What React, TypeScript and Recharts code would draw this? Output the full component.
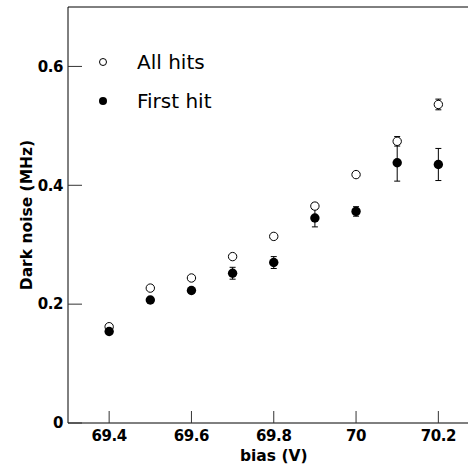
import {
    ScatterChart,
    Scatter,
    XAxis,
    YAxis,
    ErrorBar,
    ReferenceLine,
    Legend,
} from "recharts";

// bias voltage (V)
const bias = [69.4, 69.5, 69.6, 69.7, 69.8, 69.9, 70.0, 70.1, 70.2];

// dark noise rate (MHz)
const allHits = [0.162, 0.227, 0.244, 0.28, 0.314, 0.365, 0.418, 0.474, 0.536];
const allHitsErr = [0.003, 0.003, 0.003, 0.003, 0.003, 0.005, 0.004, 0.008, 0.009];
const firstHit = [0.154, 0.207, 0.223, 0.252, 0.27, 0.345, 0.356, 0.438, 0.435];
const firstHitErr = [0.003, 0.003, 0.004, 0.01, 0.01, 0.015, 0.008, 0.031, 0.027];

const xTicks = [69.4, 69.6, 69.8, 70, 70.2];
const yTicks = [0, 0.2, 0.4, 0.6];

const FONT = '"DejaVu Sans", sans-serif';

const allData = bias.map((x, i) => ({ x, y: allHits[i], err: allHitsErr[i] }));
const firstData = bias.map((x, i) => ({ x, y: firstHit[i], err: firstHitErr[i] }));

const openDot = (p: any) => (
    <circle cx={p.cx} cy={p.cy} r={4.2} fill="#fff" stroke="#000" strokeWidth={1} />
);
const filledDot = (p: any) => <circle cx={p.cx} cy={p.cy} r={4.7} fill="#000" />;

function LegendBox() {
    const row = { display: "flex", alignItems: "center", height: 39 } as const;
    return (
        <div style={{ fontFamily: FONT, fontSize: 20, color: "#000" }}>
            <div style={row}>
                <svg width={10} height={10}>
                    <circle cx={5} cy={5} r={3.5} fill="#fff" stroke="#000" />
                </svg>
                <span style={{ marginLeft: 29 }}>All hits</span>
            </div>
            <div style={row}>
                <svg width={10} height={10}>
                    <circle cx={5} cy={5} r={4} fill="#000" />
                </svg>
                <span style={{ marginLeft: 29 }}>First hit</span>
            </div>
        </div>
    );
}

const tickStyle = {
    fontFamily: FONT,
    fontSize: 15,
    fontWeight: "bold",
    fill: "#000",
    letterSpacing: -0.4,
};
const titleStyle = { fontFamily: FONT, fontSize: 15.5, fontWeight: "bold", fill: "#000" };

export default function App() {
    return (
        <div
            style={{
                position: "absolute",
                left: 0,
                top: 0,
                width: 468,
                height: 468,
                overflow: "hidden",
                background: "#fff",
            }}
        >
            <ScatterChart
                width={500}
                height={468}
                margin={{ top: 7, right: 20.5, left: 8, bottom: 0 }}
            >
                <XAxis
                    type="number"
                    dataKey="x"
                    domain={[69.3, 70.3]}
                    ticks={xTicks}
                    height={45}
                    tickSize={-12}
                    tickMargin={19}
                    tick={tickStyle}
                    axisLine={{ stroke: "#000" }}
                    tickLine={{ stroke: "#333" }}
                    label={{
                        value: "bias (V)",
                        position: "insideBottom",
                        offset: 7,
                        style: titleStyle,
                    }}
                />
                <YAxis
                    type="number"
                    dataKey="y"
                    domain={[0, 0.7]}
                    ticks={yTicks}
                    width={60}
                    tickSize={-14}
                    tickMargin={19}
                    tick={tickStyle}
                    axisLine={{ stroke: "#000" }}
                    tickLine={{ stroke: "#333" }}
                    label={{
                        value: "Dark noise (MHz)",
                        angle: -90,
                        position: "insideLeft",
                        offset: 18,
                        style: { ...titleStyle, textAnchor: "middle" },
                    }}
                />
                <ReferenceLine y={0.7} stroke="#000" />
                <ReferenceLine x={70.3} stroke="#000" />
                <Legend
                    layout="vertical"
                    align="center"
                    verticalAlign="middle"
                    content={() => <LegendBox />}
                    wrapperStyle={{ left: 98, top: 42, width: "auto" }}
                />
                <Scatter
                    name="All hits"
                    data={allData}
                    shape={openDot}
                    isAnimationActive={false}
                >
                    <ErrorBar dataKey="err" direction="y" width={3} stroke="#000" strokeWidth={1} />
                </Scatter>
                <Scatter
                    name="First hit"
                    data={firstData}
                    shape={filledDot}
                    isAnimationActive={false}
                >
                    <ErrorBar dataKey="err" direction="y" width={3} stroke="#000" strokeWidth={1} />
                </Scatter>
            </ScatterChart>
        </div>
    );
}
